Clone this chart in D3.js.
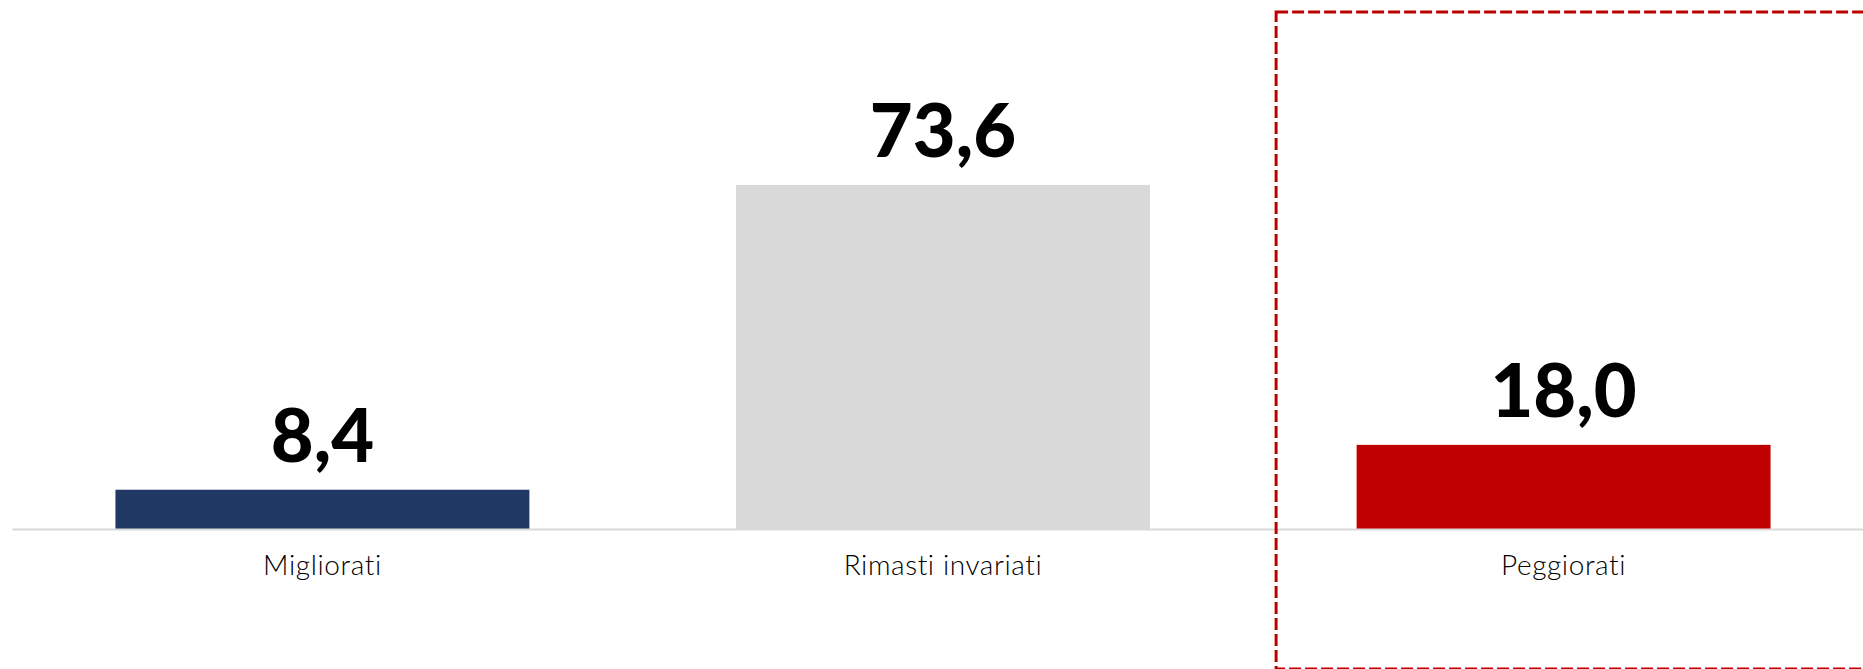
<!DOCTYPE html>
<html>
<head>
<meta charset="utf-8">
<script src="https://cdn.jsdelivr.net/npm/d3@7"></script>
<style>
  html, body { margin: 0; padding: 0; background: #ffffff; }
  svg { display: block; }
</style>
</head>
<body>
<div id="chart"></div>
<script>
// chart data
const CATEGORIES = ["Migliorati", "Rimasti invariati", "Peggiorati"];
const VALUES = [8.4, 73.6, 18.0];
const LABELS = ["8,4", "73,6", "18,0"];
const COLORS = ["#1f3864", "#d9d9d9", "#c00000"];
const HIGHLIGHT = "Peggiorati";

const FRAME_WIDTH = 1863;
const FRAME_HEIGHT = 669;
const BASELINE = 529;

const FRAME = d3.select("#chart")
    .append("svg")
    .attr("width", FRAME_WIDTH)
    .attr("height", FRAME_HEIGHT);

const xScale = d3.scaleBand()
    .domain(CATEGORIES)
    .range([12, 1874])
    .paddingInner(0.333)
    .paddingOuter(0.1667);

const yScale = d3.scaleLinear()
    .domain([0, 80])
    .range([BASELINE, 155]);

const data = CATEGORIES.map((c, i) => ({ cat: c, value: VALUES[i], label: LABELS[i], color: COLORS[i] }));

// bars
FRAME.selectAll(".bar")
    .data(data)
    .enter()
    .append("rect")
    .attr("class", "bar")
    .attr("x", d => xScale(d.cat))
    .attr("y", d => yScale(d.value))
    .attr("width", xScale.bandwidth())
    .attr("height", d => BASELINE - yScale(d.value))
    .style("fill", d => d.color);

// x axis
const xAxis = FRAME.append("g")
    .attr("transform", "translate(0," + BASELINE + ")")
    .call(d3.axisBottom(xScale).tickSize(0).tickSizeOuter(0).tickPadding(26));

xAxis.select(".domain")
    .attr("stroke", "#d9d9d9")
    .attr("stroke-width", 2);

xAxis.selectAll("text")
    .attr("font-family", "Lato, 'Noto Sans', sans-serif")
    .attr("font-weight", 300)
    .attr("font-size", "28px")
    .attr("letter-spacing", "0.6px")
    .attr("fill", "#000000");

// value labels
FRAME.selectAll(".val")
    .data(data)
    .enter()
    .append("text")
    .attr("class", "val")
    .attr("x", d => xScale(d.cat) + xScale.bandwidth() / 2)
    .attr("y", d => yScale(d.value) - 28)
    .attr("text-anchor", "middle")
    .attr("font-family", "Lato, 'Noto Sans', sans-serif")
    .attr("font-weight", 900)
    .attr("font-size", "74px")
    .attr("fill", "#000000")
    .text(d => d.label);

// dashed highlight box round the last category
FRAME.append("rect")
    .attr("x", xScale(HIGHLIGHT) - 80.5)
    .attr("y", 12)
    .attr("width", 700)
    .attr("height", 657)
    .attr("fill", "none")
    .attr("stroke", "#c00000")
    .attr("stroke-width", 3)
    .attr("stroke-dasharray", "12,4");
</script>
</body>
</html>
